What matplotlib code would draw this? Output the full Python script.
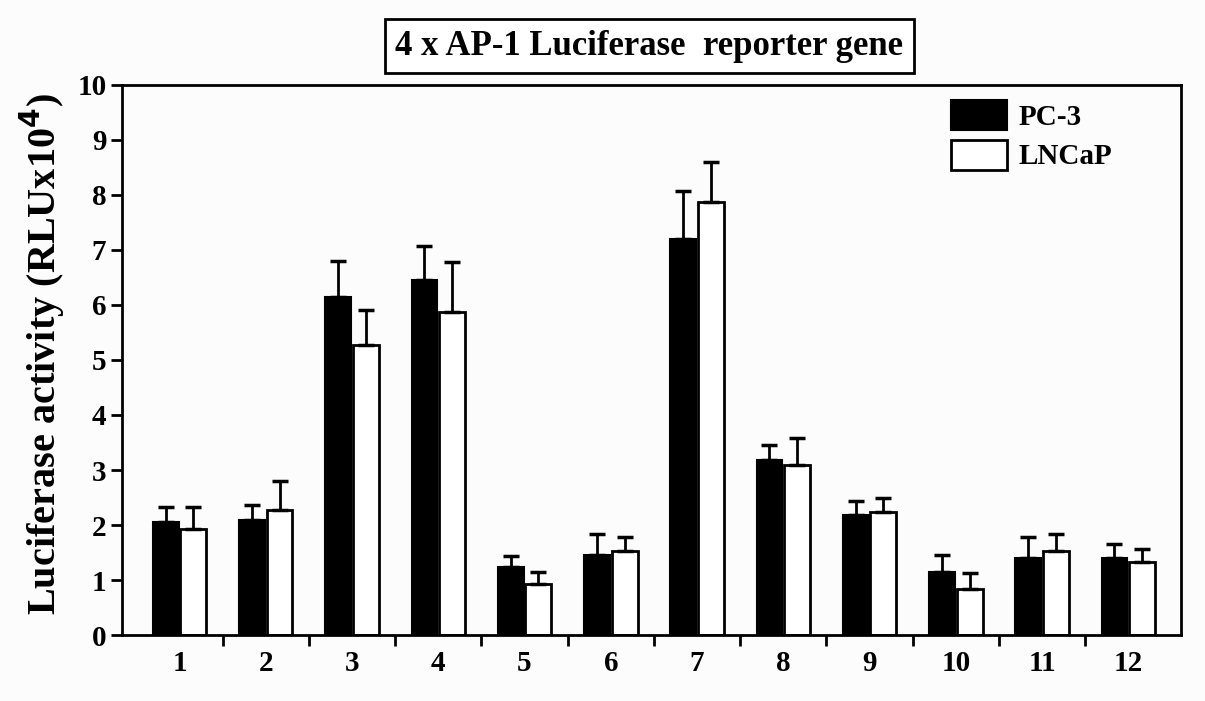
import numpy as np
import matplotlib.pyplot as plt

# data
groups = ["1", "2", "3", "4", "5", "6", "7", "8", "9", "10", "11", "12"]
pc3 = [2.06, 2.10, 6.15, 6.45, 1.23, 1.45, 7.19, 3.19, 2.19, 1.15, 1.41, 1.41]
pc3_err = [0.27, 0.26, 0.64, 0.63, 0.21, 0.38, 0.88, 0.26, 0.25, 0.30, 0.38, 0.25]
lncap = [1.92, 2.27, 5.27, 5.88, 0.92, 1.53, 7.87, 3.10, 2.23, 0.83, 1.53, 1.32]
lncap_err = [0.41, 0.53, 0.64, 0.90, 0.22, 0.26, 0.73, 0.49, 0.27, 0.30, 0.31, 0.24]

plt.rcParams["font.family"] = ["Liberation Serif", "DejaVu Serif"]
plt.rcParams["font.weight"] = "bold"
plt.rcParams["axes.labelweight"] = "bold"

fig = plt.figure(figsize=(12.05, 7.01), dpi=100, facecolor="#fcfcfc")
ax = fig.add_axes([0.101, 0.094, 0.879, 0.785])
ax.set_facecolor("#fcfcfc")

x = np.arange(len(groups))
w = 0.30
err_kw = dict(ecolor="black", elinewidth=2, capsize=6, capthick=2.5)

ax.bar(x - 0.16, pc3, w, yerr=[np.zeros(len(pc3)), pc3_err], color="black",
       edgecolor="black", linewidth=1.5, error_kw=err_kw, label="PC-3", zorder=2)
ax.bar(x + 0.16, lncap, w, yerr=[np.zeros(len(lncap)), lncap_err], color="white",
       edgecolor="black", linewidth=2, error_kw=err_kw, label="LNCaP", zorder=2)

ax.set_xlim(-0.67, 11.61)
ax.set_ylim(0, 10)
ax.set_yticks(range(0, 11))
ax.set_xticks(x)
ax.set_xticklabels(groups)
ax.set_xticks(np.arange(0.5, 11, 1), minor=True)
ax.tick_params(axis="x", which="major", length=0, pad=11, labelsize=21)
ax.tick_params(axis="x", which="minor", length=8, width=2, direction="out")
ax.tick_params(axis="y", length=8, width=2, direction="out", labelsize=21, pad=3)
for s in ax.spines.values():
    s.set_linewidth(2)

ax.set_ylabel("Luciferase activity (RLUx10$^\\mathbf{4}$)", fontsize=29)
ax.yaxis.set_label_coords(-0.052, 0.51)

ax.legend(loc="upper right", bbox_to_anchor=(0.96, 1.02), frameon=False,
          fontsize=21, handlelength=1.9, handleheight=1.2, labelspacing=0.3,
          handletextpad=0.4)

fig.text(0.539, 0.934, "4 x AP-1 Luciferase  reporter gene", ha="center", va="center",
         fontsize=25, fontweight="bold",
         bbox=dict(boxstyle="square,pad=0.3", facecolor="white", edgecolor="black",
                   linewidth=2))

fig.savefig("out.png", dpi=100, facecolor=fig.get_facecolor())
